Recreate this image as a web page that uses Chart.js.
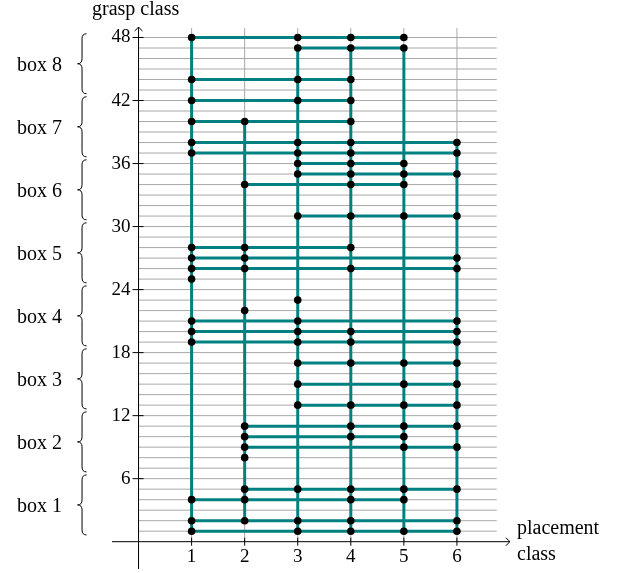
<!DOCTYPE html>
<html>
<head>
<meta charset="utf-8">
<script src="https://cdn.jsdelivr.net/npm/chart.js"></script>
<style>
  html, body { margin: 0; padding: 0; background: #fff; }
  canvas { display: block; }
</style>
</head>
<body>
<canvas id="grafico" width="619" height="573"></canvas>
<script>
// grasp classes that have at least one point, and the placement classes of each one
const graspClasses = [1, 2, 4, 5, 8, 9, 10, 11, 13, 15, 17, 19, 20, 21, 22, 23, 25, 26, 27, 28, 31, 34, 35, 36, 37, 38, 40, 42, 44, 47, 48];
const placementsByGrasp = [
  [1, 3, 4, 5, 6],
  [1, 2, 3, 4, 6],
  [1, 2, 4, 5],
  [2, 3, 4, 5, 6],
  [2],
  [2, 5, 6],
  [2, 4, 5],
  [2, 4, 5, 6],
  [3, 4, 5, 6],
  [3, 5, 6],
  [3, 4, 5, 6],
  [1, 3, 4, 6],
  [1, 3, 4, 6],
  [1, 3, 6],
  [2],
  [3],
  [1],
  [1, 2, 4, 6],
  [1, 2, 6],
  [1, 2, 4],
  [3, 4, 5, 6],
  [2, 4, 5],
  [3, 4, 5, 6],
  [3, 4, 5],
  [1, 3, 4, 6],
  [1, 3, 4, 6],
  [1, 2, 4],
  [1, 3, 4],
  [1, 3, 4],
  [3, 4, 5],
  [1, 3, 4, 5]
];

// vertical lines of each placement class
const placementClasses = [1, 2, 3, 4, 5, 6];
const columnLow = [1, 2, 1, 1, 1, 1];
const columnHigh = [48, 40, 47, 47, 47, 38];

// axes
const xTicks = [1, 2, 3, 4, 5, 6];
const yTicks = [6, 12, 18, 24, 30, 36, 42, 48];
const boxLabels = ['box 1', 'box 2', 'box 3', 'box 4', 'box 5', 'box 6', 'box 7', 'box 8'];
const gridRows = 48;

const teal = '#008080';
const serif = '"Liberation Serif", "DejaVu Serif", serif';

function buildDatasets() {
  const datasets = [];
  const dots = [];

  graspClasses.forEach((g, i) => {
    const list = placementsByGrasp[i];
    list.forEach(p => dots.push({ x: p, y: g }));
    if (list.length > 1) {
      datasets.push({
        data: [{ x: Math.min(...list), y: g }, { x: Math.max(...list), y: g }],
        showLine: true,
        borderColor: teal,
        borderWidth: 3,
        pointRadius: 0,
        order: 1
      });
    }
  });

  placementClasses.forEach((p, i) => {
    datasets.push({
      data: [{ x: p, y: columnLow[i] }, { x: p, y: columnHigh[i] }],
      showLine: true,
      borderColor: teal,
      borderWidth: 3,
      pointRadius: 0,
      order: 1
    });
  });

  datasets.push({
    data: dots,
    showLine: false,
    pointRadius: 3.8,
    pointBackgroundColor: '#000',
    pointBorderWidth: 0,
    order: 0
  });

  return datasets;
}

function drawBrace(ctx, x, top, bottom) {
  const mid = (top + bottom) / 2;
  const w = 9, r = 5;
  ctx.beginPath();
  ctx.moveTo(x + w, top);
  ctx.quadraticCurveTo(x + w / 2, top, x + w / 2, top + r);
  ctx.lineTo(x + w / 2, mid - r);
  ctx.quadraticCurveTo(x + w / 2, mid, x, mid);
  ctx.quadraticCurveTo(x + w / 2, mid, x + w / 2, mid + r);
  ctx.lineTo(x + w / 2, bottom - r);
  ctx.quadraticCurveTo(x + w / 2, bottom, x + w, bottom);
  ctx.stroke();
}

const axesPlugin = {
  id: 'axesPlugin',
  beforeDatasetsDraw(chart) {
    const ctx = chart.ctx;
    const xs = chart.scales.x;
    const ys = chart.scales.y;
    const area = chart.chartArea;
    const x0 = xs.getPixelForValue(0);
    const y0 = ys.getPixelForValue(0);

    ctx.save();
    // grid
    ctx.strokeStyle = '#a8a8a8';
    ctx.lineWidth = 1;
    for (let g = 1; g <= gridRows; g++) {
      const py = ys.getPixelForValue(g);
      ctx.beginPath();
      ctx.moveTo(x0, py);
      ctx.lineTo(xs.getPixelForValue(6.75), py);
      ctx.stroke();
    }
    xTicks.forEach(v => {
      const px = xs.getPixelForValue(v);
      ctx.beginPath();
      ctx.moveTo(px, y0);
      ctx.lineTo(px, ys.getPixelForValue(48.9));
      ctx.stroke();
    });

    // axis lines and arrows
    ctx.strokeStyle = '#000';
    ctx.beginPath();
    ctx.moveTo(area.left, y0);
    ctx.lineTo(area.right, y0);
    ctx.moveTo(x0, area.bottom);
    ctx.lineTo(x0, area.top);
    ctx.stroke();
    ctx.beginPath();
    ctx.moveTo(area.right - 4, y0 - 4);
    ctx.quadraticCurveTo(area.right - 1.5, y0 - 1, area.right, y0);
    ctx.quadraticCurveTo(area.right - 1.5, y0 + 1, area.right - 4, y0 + 4);
    ctx.moveTo(x0 - 4, area.top + 4);
    ctx.quadraticCurveTo(x0 - 1, area.top + 1.5, x0, area.top);
    ctx.quadraticCurveTo(x0 + 1, area.top + 1.5, x0 + 4, area.top + 4);
    ctx.stroke();

    // ticks
    yTicks.forEach(v => {
      const py = ys.getPixelForValue(v);
      ctx.beginPath();
      ctx.moveTo(x0 - 6, py);
      ctx.lineTo(x0 + 5, py);
      ctx.stroke();
    });
    xTicks.forEach(v => {
      const px = xs.getPixelForValue(v);
      ctx.beginPath();
      ctx.moveTo(px, y0 - 4);
      ctx.lineTo(px, y0 + 4);
      ctx.stroke();
    });

    // tick labels
    ctx.fillStyle = '#000';
    ctx.font = '19px ' + serif;
    ctx.textAlign = 'right';
    ctx.textBaseline = 'middle';
    yTicks.forEach(v => ctx.fillText(String(v), x0 - 8, ys.getPixelForValue(v)));
    ctx.textAlign = 'center';
    xTicks.forEach(v => ctx.fillText(String(v), xs.getPixelForValue(v), y0 + 15));

    // axis titles
    ctx.font = '20px ' + serif;
    ctx.textAlign = 'left';
    ctx.textBaseline = 'alphabetic';
    ctx.fillText('grasp class', 92, 15);
    ctx.fillText('placement', area.right + 7, y0 - 8);
    ctx.fillText('class', area.right + 7, y0 + 18);

    // boxes of 6 grasp classes
    ctx.lineWidth = 1;
    boxLabels.forEach((label, i) => {
      const top = ys.getPixelForValue(6 * (i + 1) + 0.5) + 1.5;
      const bottom = ys.getPixelForValue(6 * i + 0.5) - 1.5;
      drawBrace(ctx, x0 - 61, top, bottom);
      ctx.textAlign = 'center';
      ctx.fillText(label, x0 - 99, (top + bottom) / 2 + 7);
    });
    ctx.restore();
  }
};

new Chart(document.getElementById('grafico'), {
  type: 'scatter',
  data: { datasets: buildDatasets() },
  options: {
    responsive: false,
    devicePixelRatio: 1,
    animation: false,
    events: [],
    layout: { padding: { left: 112, right: 109, top: 27, bottom: 0 } },
    plugins: { legend: { display: false }, tooltip: { enabled: false } },
    scales: {
      x: { type: 'linear', min: -0.5, max: 7, display: false },
      y: { type: 'linear', min: -2.6, max: 49, display: false }
    }
  },
  plugins: [axesPlugin]
});
</script>
</body>
</html>
